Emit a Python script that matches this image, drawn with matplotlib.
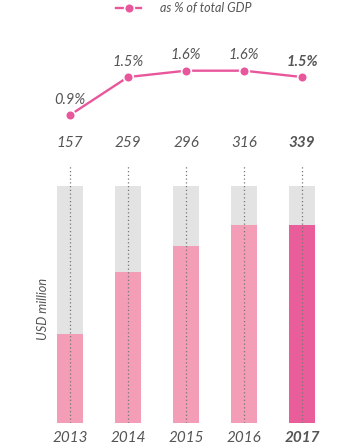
import matplotlib
matplotlib.use("Agg")
import matplotlib.pyplot as plt
from matplotlib.lines import Line2D
from matplotlib.transforms import blended_transform_factory

years = ["2013", "2014", "2015", "2016", "2017"]
usd_million = [157, 259, 296, 316, 339]
gdp_share = [0.9, 1.5, 1.6, 1.6, 1.5]
gdp_labels = ["0.9%", "1.5%", "1.6%", "1.6%", "1.5%"]
# filled share of the grey column, as drawn in the picture
bar_fill = [0.376, 0.637, 0.747, 0.835, 0.835]
bar_full = [1.0, 1.0, 1.0, 1.0, 1.0]

PINK = "#E8579B"
LIGHT = "#F39DB7"
DARK = "#E95E9A"
GREY = "#E3E3E3"
TXT = "#555555"
FONT = "Lato"

W, H = 356, 446
fig = plt.figure(figsize=(W / 100, H / 100), dpi=100)

x = list(range(len(years)))
xl = (-0.6, 4.65)
left = 35.2 / W
width = (336.8 - 35.2) / W * (4.65 + 0.6) / 5.2

# bar axes
axb = fig.add_axes([left, (H - 423) / H, width, 258 / H])
axb.set_xlim(*xl)
axb.set_ylim(0, 1.089)
axb.bar(x, bar_full, width=0.45, color=GREY, zorder=1)
colors = [LIGHT] * 4 + [DARK]
axb.bar(x, bar_fill, width=0.45, color=colors, zorder=2)
for xi in x:
    axb.axvline(xi, color="#777777", lw=0.9, ls=(0, (1, 2)), zorder=3)
axb.axis("off")
trb = blended_transform_factory(axb.transData, axb.transAxes)
for i, y in enumerate(years):
    axb.text(i, -0.06, y, transform=trb, ha="center", va="center",
             fontsize=11, style="italic", family=FONT, color=TXT,
             fontweight="bold" if i == 4 else "normal")
fig.text(43 / W, 1 - 309 / H, "USD million", rotation=90, ha="center", va="center",
         fontsize=9.2, style="italic", family=FONT, color=TXT)

# line axes
axl = fig.add_axes([left, (H - 150) / H, width, 110 / H])
axl.set_xlim(*xl)
axl.set_ylim(0.347, 2.085)
axl.plot(x, gdp_share, color=PINK, lw=1.7, marker="o", ms=7,
         markerfacecolor=PINK, markeredgecolor="white", markeredgewidth=1.2, zorder=3)
axl.axis("off")
for i, (v, lab) in enumerate(zip(gdp_share, gdp_labels)):
    axl.annotate(lab, (i, v), xytext=(0, 11), textcoords="offset points",
                 ha="center", va="center", fontsize=10.5, style="italic", family=FONT,
                 color=TXT, fontweight="bold" if i == 4 else "normal")
trl = blended_transform_factory(axl.transData, fig.transFigure)
for i, v in enumerate(usd_million):
    axl.text(i, 1 - 143 / H, str(v), transform=trl, ha="center", va="center",
             fontsize=11, style="italic", family=FONT, color=TXT,
             fontweight="bold" if i == 4 else "normal")

handle = Line2D([], [], color=PINK, lw=1.7, marker="o", ms=7,
                markerfacecolor=PINK, markeredgecolor="white", markeredgewidth=1.2)
fig.legend([handle], ["as % of total GDP"], loc="center", bbox_to_anchor=(184 / W, 1 - 8 / H),
           frameon=False, handlelength=2.0, handletextpad=1.5,
           prop={"family": FONT, "style": "italic", "size": 9}, labelcolor=TXT)

fig.savefig("out.png", dpi=100, facecolor="white")
